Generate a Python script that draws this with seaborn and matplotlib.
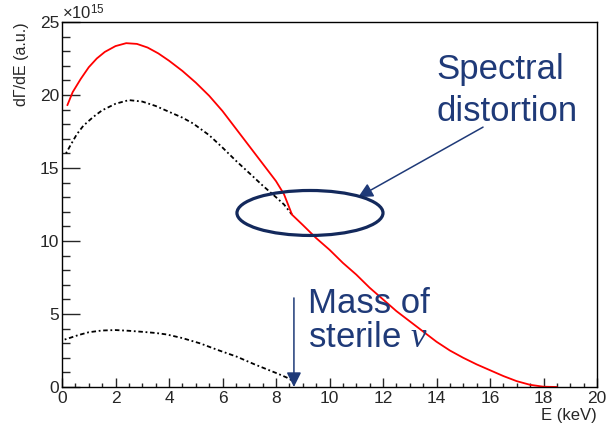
import matplotlib
matplotlib.use("Agg")
import matplotlib.pyplot as plt
from matplotlib.patches import Ellipse
from matplotlib.ticker import MultipleLocator
import seaborn as sns

# ----- datos (E en keV, dGamma/dE en unidades de 1e15) -----
e_total = [0.2, 0.4, 0.7, 1.0, 1.3, 1.6, 2.0, 2.4, 2.8, 3.2, 3.6, 4.0, 4.5,
           5.0, 5.5, 6.0, 6.5, 7.0, 7.5, 8.0, 8.3, 8.6, 9.0, 9.5, 10.0, 10.5,
           11.0, 11.5, 12.0, 12.5, 13.0, 13.5, 14.0, 14.5, 15.0, 15.5, 16.0,
           16.5, 17.0, 17.5, 18.0, 18.5]
y_total = [19.3, 20.2, 21.1, 21.9, 22.5, 22.95, 23.35, 23.55, 23.5, 23.25,
           22.85, 22.35, 21.65, 20.85, 19.95, 18.9, 17.7, 16.5, 15.3, 14.1,
           13.2, 11.8, 11.1, 10.2, 9.4, 8.5, 7.7, 6.8, 6.0, 5.2, 4.5, 3.8, 3.1,
           2.5, 2.0, 1.55, 1.15, 0.75, 0.4, 0.15, 0.02, 0.0]

e_activo = [0.15, 0.3, 0.55, 0.8, 1.17, 1.5, 2.0, 2.5, 3.0, 3.5, 4.0, 4.5,
            4.9, 5.5, 6.0, 6.5, 7.15, 7.5, 8.0, 8.3, 8.6]
y_activo = [16.0, 16.5, 17.3, 17.9, 18.5, 18.95, 19.4, 19.65, 19.55, 19.25,
            18.85, 18.45, 18.05, 17.25, 16.4, 15.5, 14.4, 13.8, 13.0, 12.5,
            11.8]

e_esteril = [0.1, 0.24, 0.6, 1.0, 1.5, 2.0, 2.5, 3.0, 3.5, 3.91, 4.5, 5.16,
             5.8, 6.53, 7.2, 8.03, 8.4, 8.6]
y_esteril = [3.25, 3.33, 3.55, 3.75, 3.87, 3.9, 3.85, 3.78, 3.7, 3.6, 3.35,
             2.99, 2.55, 2.08, 1.55, 0.94, 0.65, 0.45]

azul = "#1f3a78"
azul_osc = "#13295c"

sns.set_style("ticks")
plt.rcParams["font.family"] = ["Liberation Sans", "DejaVu Sans"]
plt.rcParams["mathtext.fontset"] = "custom"
plt.rcParams["mathtext.rm"] = "Liberation Sans"
plt.rcParams["mathtext.it"] = "Liberation Serif:italic"

fig = plt.figure(figsize=(6.06, 4.26), dpi=100)
ax = fig.add_axes([62 / 606, 1 - 387 / 426, 535 / 606, 365 / 426])

sns.lineplot(x=e_esteril, y=y_esteril, ax=ax, color="black", lw=1.3,
             linestyle=(0, (1, 1.5, 2.5, 1.5)), sort=False)
sns.lineplot(x=e_activo, y=y_activo, ax=ax, color="black", lw=1.3,
             linestyle=(0, (1, 1.5, 2.5, 1.5)), sort=False)
sns.lineplot(x=e_total, y=y_total, ax=ax, color="red", lw=1.3, sort=False)

ax.set_xlim(0, 20)
ax.set_ylim(0, 25)
ax.xaxis.set_major_locator(MultipleLocator(2))
ax.xaxis.set_minor_locator(MultipleLocator(0.5))
ax.yaxis.set_major_locator(MultipleLocator(5))
ax.yaxis.set_minor_locator(MultipleLocator(1))
ax.tick_params(axis="x", which="major", direction="in", length=6.5, width=1,
               labelsize=12.5, pad=3)
ax.tick_params(axis="x", which="minor", direction="in", length=3.2, width=1)
ax.tick_params(axis="y", which="major", direction="in", length=13, width=1,
               labelsize=12.5, pad=2)
ax.tick_params(axis="y", which="minor", direction="in", length=6, width=1)
for s in ax.spines.values():
    s.set_linewidth(1)
    s.set_color("black")

ax.set_xlabel("E (keV)", loc="right", fontsize=12, labelpad=1)
ax.set_ylabel("dΓ/dE (a.u.)", loc="top", fontsize=11.5, labelpad=8)
ax.text(0.0, 1.0, r"$\times$10$^{15}$", transform=ax.transAxes, fontsize=12,
        ha="left", va="bottom")

# ----- anotaciones -----
ax.add_patch(Ellipse((9.27, 11.92), 5.46, 3.08, fill=False, ec=azul_osc,
                     lw=2.3, zorder=5))
ax.annotate("", xy=(11.07, 13.0), xytext=(15.74, 17.8),
            arrowprops=dict(arrowstyle="-|>", color=azul, lw=1.1,
                            mutation_scale=22, shrinkA=0, shrinkB=0))
ax.annotate("", xy=(8.67, 0.0), xytext=(8.67, 6.1),
            arrowprops=dict(arrowstyle="-|>", color=azul, lw=1.1,
                            mutation_scale=22, shrinkA=0, shrinkB=0))
ax.text(14.0, 22.9, "Spectral\ndistortion", color=azul, fontsize=25,
        ha="left", va="top", linespacing=1.35)
ax.text(9.2, 6.85, "Mass of\nsterile $\\nu$", color=azul, fontsize=25,
        ha="left", va="top", linespacing=1.05)

fig.savefig("out.png", dpi=100)
